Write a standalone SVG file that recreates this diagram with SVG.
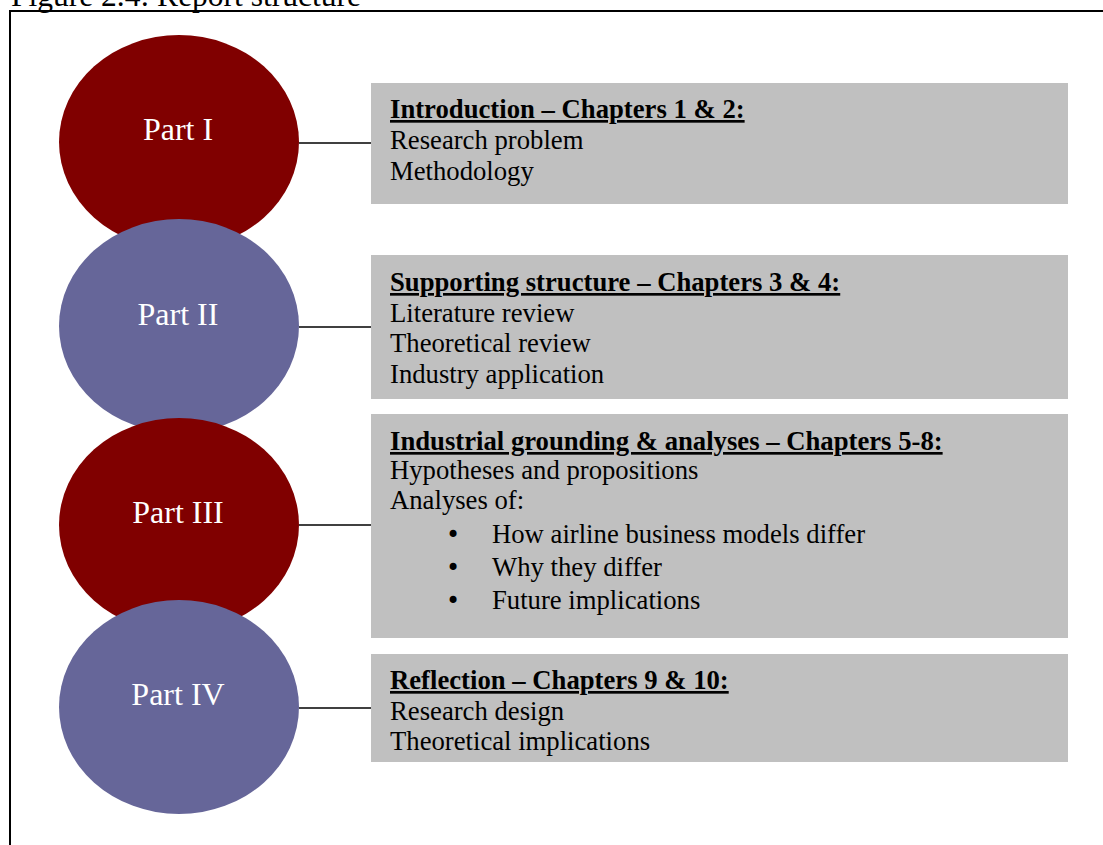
<svg xmlns="http://www.w3.org/2000/svg" width="1103" height="845" viewBox="0 0 1103 845">
<style>
.t{font-family:"Liberation Serif","Times New Roman",serif;fill:#000;font-size:26.7px}
.h{font-weight:bold;text-decoration:underline}
.b{font-family:"DejaVu Sans","Liberation Sans",sans-serif;fill:#000;font-size:24px;text-anchor:middle}
.lbl{font-family:"Liberation Serif","Times New Roman",serif;fill:#fff;font-size:32px;text-anchor:middle}
.box{fill:#c0c0c0}
.red{fill:#800000}
.blue{fill:#666699}
.conn{stroke:#000;stroke-width:1.5;fill:none}
</style>
<rect width="1103" height="845" fill="#fff"/>
<text class="t" x="11" y="6" style="font-size:31.5px">Figure 2.4: Report structure</text>
<path d="M10,850 V11 H1110" fill="none" stroke="#000" stroke-width="2"/>
<g id="connectors">
<line class="conn" x1="299" y1="143" x2="371" y2="143"/>
<line class="conn" x1="299" y1="327" x2="371" y2="327"/>
<line class="conn" x1="299" y1="525" x2="371" y2="525"/>
<line class="conn" x1="299" y1="708" x2="371" y2="708"/>
</g>
<g id="part1"><ellipse class="red" cx="179" cy="142" rx="120" ry="107"/><text class="lbl" x="178" y="140">Part I</text></g>
<g id="part2"><ellipse class="blue" cx="179" cy="326" rx="120" ry="107"/><text class="lbl" x="178" y="325">Part II</text></g>
<g id="part3"><ellipse class="red" cx="179" cy="525" rx="120" ry="107"/><text class="lbl" x="178" y="523">Part III</text></g>
<g id="part4"><ellipse class="blue" cx="179" cy="707" rx="120" ry="107"/><text class="lbl" x="178" y="705">Part IV</text></g>
<g id="box1">
<rect class="box" x="371" y="83" width="697" height="121"/>
<text class="t h" x="390" y="118">Introduction – Chapters 1 &amp; 2:</text>
<text class="t" x="390" y="149">Research problem</text>
<text class="t" x="390" y="180">Methodology</text>
</g>
<g id="box2">
<rect class="box" x="371" y="255" width="697" height="144"/>
<text class="t h" x="390" y="291">Supporting structure – Chapters 3 &amp; 4:</text>
<text class="t" x="390" y="322">Literature review</text>
<text class="t" x="390" y="352">Theoretical review</text>
<text class="t" x="390" y="383">Industry application</text>
</g>
<g id="box3">
<rect class="box" x="371" y="414" width="697" height="224"/>
<text class="t h" x="390" y="450">Industrial grounding &amp; analyses – Chapters 5-8:</text>
<text class="t" x="390" y="479">Hypotheses and propositions</text>
<text class="t" x="390" y="509">Analyses of:</text>
<text class="b" x="453" y="543">•</text><text class="t" x="492" y="543">How airline business models differ</text>
<text class="b" x="453" y="576">•</text><text class="t" x="492" y="576">Why they differ</text>
<text class="b" x="453" y="609">•</text><text class="t" x="492" y="609">Future implications</text>
</g>
<g id="box4">
<rect class="box" x="371" y="654" width="697" height="108"/>
<text class="t h" x="390" y="689">Reflection – Chapters 9 &amp; 10:</text>
<text class="t" x="390" y="720">Research design</text>
<text class="t" x="390" y="750">Theoretical implications</text>
</g>
</svg>
